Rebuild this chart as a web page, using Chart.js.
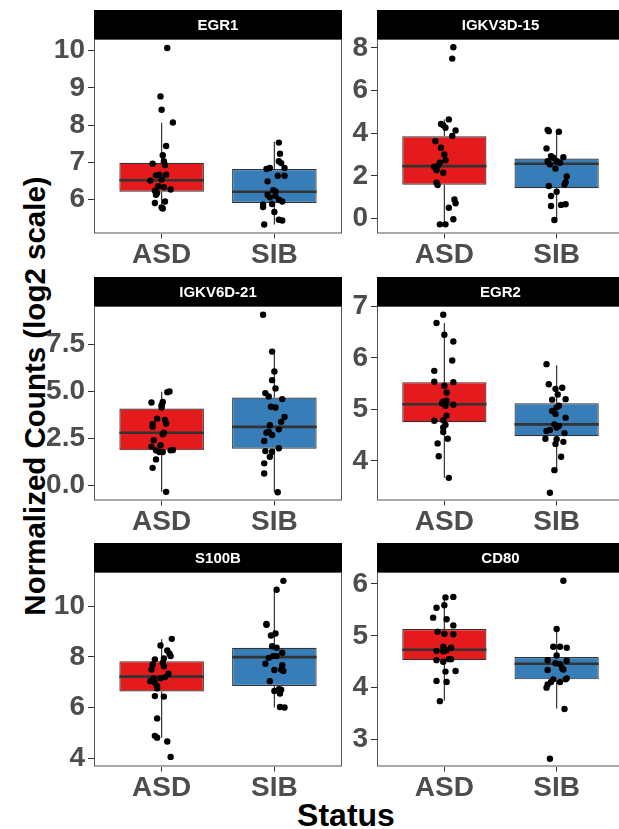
<!DOCTYPE html>
<html>
<head>
<meta charset="utf-8">
<script src="https://cdn.jsdelivr.net/npm/chart.js@4.4.1/dist/chart.umd.min.js"></script>
<style>
  html, body { margin: 0; padding: 0; background: #fff; }
  #figure { position: relative; width: 619px; height: 829px; overflow: hidden; background: #fff;
            font-family: "Liberation Sans", Arial, sans-serif; }
  #figure canvas { position: absolute; }
  #ylab { position: absolute; left: -215px; top: 378px; width: 500px; height: 36px; line-height: 36px;
          text-align: center; transform: rotate(-90deg); font-weight: bold; font-size: 29.5px; color: #000; }
  #xlab { position: absolute; left: 196px; top: 796px; width: 300px; height: 38px; line-height: 38px;
          text-align: center; font-weight: bold; font-size: 32px; color: #000; }
</style>
</head>
<body>
<div id="figure">
  <div id="ylab">Normalized Counts (log2 scale)</div>
  <div id="xlab">Status</div>
</div>
<script>
/*************************  Data  *************************/
var categories = ['ASD', 'SIB'];
var genes = ['EGR1', 'IGKV3D-15', 'IGKV6D-21', 'EGR2', 'S100B', 'CD80'];
var yMin = [5.09, -0.7, -0.8, 3.23, 3.67, 2.48];
var yMax = [10.31, 8.42, 9.56, 7.01, 11.35, 6.23];
var yTicks = [[6, 7, 8, 9, 10], [0, 2, 4, 6, 8], [0, 2.5, 5, 7.5], [4, 5, 6, 7], [4, 6, 8, 10], [3, 4, 5, 6]];
var tickDecimals = [0, 0, 1, 0, 0, 0];

// box stats per gene: [lower whisker, q1, median, q3, upper whisker]
var boxASD = [
    [5.76, 6.21, 6.52, 6.99, 8.06],
    [-0.27, 1.59, 2.46, 3.86, 4.65],
    [-0.34, 1.87, 2.81, 4.10, 4.99],
    [3.67, 4.75, 5.10, 5.53, 6.68],
    [4.81, 6.63, 7.22, 7.83, 8.69],
    [3.75, 4.53, 4.73, 5.13, 5.75]
];
var boxSIB = [
    [5.33, 5.91, 6.21, 6.82, 7.55],
    [-0.08, 1.42, 2.57, 2.82, 4.10],
    [-0.36, 1.96, 3.12, 4.68, 7.13],
    [3.82, 4.48, 4.71, 5.12, 5.86],
    [6.00, 6.85, 7.99, 8.36, 10.61],
    [3.60, 4.16, 4.46, 4.59, 5.13]
];

// samples: [jitter offset in category units, value]
var egr1ASD = [[0.05,10.07],[-0.01,8.77],[0,8.41],[0.1,8.07],[0.04,7.44],[0.01,7.19],[0.02,7.03],[-0.08,6.96],[0.03,6.93],[-0.02,6.67],[0.04,6.67],[-0.05,6.65],[-0.1,6.51],[0,6.54],[-0.03,6.36],[0.02,6.33],[-0.06,6.24],[0.08,6.27],[-0.04,6.18],[-0.05,6.13],[0.03,5.95],[-0.06,5.91],[0,5.79],[0.01,5.76]];
var egr1SIB = [[0.04,7.53],[0.05,7.23],[0.04,7.03],[0.06,6.98],[-0.07,6.82],[-0.04,6.85],[0.09,6.85],[-0.06,6.49],[0.03,6.64],[0.09,6.64],[-0.01,6.25],[0.01,6.22],[-0.06,6.13],[-0.04,6.06],[0.04,6.0],[0.07,5.95],[-0.02,5.88],[-0.1,5.87],[-0.1,5.8],[0,5.67],[0.04,5.46],[0.07,5.44],[-0.09,5.33],[0.01,6.1]];
var igkv3ASD = [[0.08,8.03],[0.07,7.5],[0.04,4.65],[-0.03,4.44],[-0.01,4.38],[0.01,4.26],[0.1,4.13],[0.07,3.87],[-0.08,3.63],[-0.03,3.32],[0,3.01],[0.01,2.74],[-0.04,2.62],[-0.06,2.46],[-0.09,2.43],[-0.07,2.27],[-0.01,2.15],[-0.07,1.68],[-0.06,1.57],[0.09,0.9],[0.1,0.72],[0.04,0.51],[0.08,-0.03],[-0.04,-0.27],[0.01,-0.27]];
var igkv3SIB = [[-0.08,4.16],[-0.07,4.1],[0.02,4.07],[-0.09,3.29],[-0.05,2.93],[-0.03,2.85],[0.06,2.88],[-0.08,2.69],[0,2.69],[0.03,2.62],[-0.06,2.54],[-0.01,2.35],[0.09,1.97],[0.08,1.71],[0.07,1.6],[-0.07,1.53],[0,1.26],[-0.05,1.06],[-0.05,0.59],[0.04,0.64],[0.08,0.67],[-0.02,-0.07]];
var igkv6ASD = [[0.07,5.01],[0.05,4.97],[-0.09,4.42],[0.01,4.45],[0,4.28],[0,4.15],[-0.04,3.56],[0.03,3.49],[0.04,3.3],[-0.08,3.26],[-0.08,3.13],[0.02,2.81],[0.01,2.73],[-0.07,2.41],[-0.09,2.07],[-0.01,2.14],[-0.05,1.87],[-0.02,1.78],[0.01,1.78],[0.08,1.87],[0.1,1.89],[-0.05,1.39],[-0.08,0.94],[0.04,-0.34]];
var igkv6SIB = [[-0.1,9.09],[-0.02,7.13],[0,6.07],[-0.02,5.61],[0.01,5.17],[-0.08,4.92],[-0.05,4.74],[0.07,4.6],[-0.03,4.19],[0.01,4.15],[0.09,3.65],[0.06,3.39],[-0.04,3.21],[0.04,2.99],[-0.07,2.81],[-0.02,2.69],[-0.05,2.86],[-0.09,2.37],[0.04,1.98],[-0.08,1.83],[-0.02,1.8],[-0.04,1.53],[-0.09,1.18],[-0.09,0.64],[0.03,-0.36]];
var egr2ASD = [[-0.01,6.84],[-0.07,6.68],[0,6.45],[0.08,6.32],[0.07,5.95],[-0.09,5.75],[-0.09,5.54],[0.08,5.53],[0,5.46],[0.02,5.33],[-0.01,5.15],[0.02,5.17],[0.01,5.07],[0.08,5.09],[-0.02,5.12],[-0.09,4.78],[-0.01,4.79],[0.02,4.88],[0.01,4.7],[-0.01,4.65],[-0.01,4.56],[0.03,4.43],[-0.06,4.34],[-0.05,4.09],[0.04,3.67]];
var egr2SIB = [[-0.09,5.88],[-0.07,5.49],[-0.01,5.4],[0.05,5.42],[0.01,5.29],[-0.04,5.19],[0.08,5.2],[0.02,5.07],[0,5.04],[-0.04,4.97],[-0.01,4.91],[0.08,4.84],[-0.02,4.71],[0.02,4.68],[0,4.65],[-0.06,4.6],[-0.09,4.58],[0.07,4.54],[-0.1,4.43],[0,4.42],[0.06,4.37],[-0.01,4.33],[0.04,4.08],[-0.02,3.82],[-0.06,3.38]];
var s100bASD = [[0.09,8.71],[-0.01,8.45],[0.05,8.25],[0.07,8.12],[0.08,8.03],[-0.06,7.9],[0.02,7.94],[-0.08,7.7],[0.01,7.77],[0.02,7.63],[-0.09,7.5],[0.06,7.33],[0.03,7.2],[-0.01,7.15],[-0.07,7.15],[-0.1,7.04],[-0.06,6.98],[-0.04,6.85],[-0.04,6.76],[-0.06,6.45],[0.02,6.43],[-0.04,5.57],[-0.06,4.88],[-0.04,4.81],[0.05,4.66],[0.08,4.05]];
var s100bSIB = [[0.08,11.0],[0.02,10.65],[-0.07,9.3],[-0.07,9.27],[0.01,8.92],[-0.03,8.84],[-0.02,8.42],[0.02,8.36],[0.07,8.16],[-0.01,8.03],[0.02,8.03],[-0.05,7.96],[-0.08,7.73],[0.07,7.67],[0.08,7.44],[0,7.48],[0.06,7.5],[-0.04,7.04],[0,6.65],[0.04,6.72],[0.05,6.55],[0.06,6.7],[0.05,6.02],[0.09,6.0]];
var cd80ASD = [[0.01,5.74],[0.08,5.75],[-0.07,5.54],[0,5.59],[-0.1,5.35],[0.02,5.32],[0.08,5.2],[-0.06,5.08],[0,5.04],[0.08,5.03],[-0.01,4.79],[0.06,4.77],[-0.07,4.71],[-0.01,4.7],[0.02,4.72],[0.06,4.55],[-0.07,4.53],[-0.01,4.5],[0.04,4.55],[0.01,4.31],[0.1,4.32],[-0.07,4.13],[0.02,4.11],[-0.04,3.74]];
var cd80SIB = [[0.06,6.06],[0,5.13],[-0.03,4.79],[0.03,4.79],[0.09,4.77],[0,4.62],[-0.08,4.53],[0.09,4.52],[-0.01,4.47],[0.03,4.45],[0.05,4.37],[-0.08,4.34],[0.06,4.35],[0.09,4.18],[0.08,4.16],[-0.03,4.16],[0.03,4.11],[-0.05,4.11],[-0.08,4.06],[-0.09,4.0],[0.07,3.59],[-0.06,2.63]];

var samplesASD = [egr1ASD, igkv3ASD, igkv6ASD, egr2ASD, s100bASD, cd80ASD];
var samplesSIB = [egr1SIB, igkv3SIB, igkv6SIB, egr2SIB, s100bSIB, cd80SIB];

var fillColors = ['#E41A1C', '#377EB8'];
var boxWidth = 0.75;

/*************************  Facet strip + border  *************************/
var STRIP_H = 29;
var facetFrame = {
    id: 'facetFrame',
    afterDraw: function(chart, args, opts) {
        var a = chart.chartArea, ctx = chart.ctx;
        ctx.save();
        ctx.strokeStyle = '#555';
        ctx.lineWidth = 1;
        ctx.strokeRect(a.left + 0.5, a.top + 0.5, a.right - a.left - 1, a.bottom - a.top - 1);
        ctx.fillStyle = '#000';
        ctx.fillRect(a.left, a.top - STRIP_H, a.right - a.left, STRIP_H);
        ctx.fillStyle = '#fff';
        ctx.font = 'bold 15px "Liberation Sans", Arial, sans-serif';
        ctx.textAlign = 'center';
        ctx.textBaseline = 'middle';
        ctx.fillText(opts.title, (a.left + a.right) / 2, a.top - STRIP_H / 2 + 1);
        ctx.restore();
    }
};

function boxData(b) {
    return [{x: 1, y: [b[0][1], b[0][3]]}, {x: 2, y: [b[1][1], b[1][3]]}];
}
function whiskerData(b) {
    var out = [];
    for (var k = 0; k < 2; k++) {
        var s = b[k], x = k + 1;
        out.push({x: x, y: s[4]}, {x: x, y: s[3]}, {x: x, y: null}, {x: x, y: s[1]}, {x: x, y: s[0]}, {x: x, y: null});
    }
    return out;
}
function medianData(b) {
    var out = [];
    for (var k = 0; k < 2; k++) {
        var x = k + 1;
        out.push({x: x - boxWidth / 2, y: b[k][2]}, {x: x + boxWidth / 2, y: b[k][2]}, {x: x, y: null});
    }
    return out;
}
function pointData(asd, sib) {
    return asd.map(function(p) { return {x: 1 + p[0], y: p[1]}; })
        .concat(sib.map(function(p) { return {x: 2 + p[0], y: p[1]}; }));
}

/*************************  Build facets  *************************/
var figure = document.getElementById('figure');
var rowTops = [10, 276.5, 543];
var tickFont = {family: '"Liberation Sans", Arial, sans-serif', size: 28, weight: 'bold'};

genes.forEach(function(gene, i) {
    var col = i % 2, row = Math.floor(i / 2);
    var yAxisW = col ? 40 : 94;
    var canvas = document.createElement('canvas');
    canvas.width = col ? 291 : 346;
    canvas.height = 258;
    canvas.style.left = (col ? 337 : 0) + 'px';
    canvas.style.top = rowTops[row] + 'px';
    figure.appendChild(canvas);

    var stats = [boxASD[i], boxSIB[i]];
    new Chart(canvas, {
        type: 'bar',
        data: {
            datasets: [
                {
                    type: 'scatter', data: pointData(samplesASD[i], samplesSIB[i]),
                    pointRadius: 3.2, pointBackgroundColor: '#000', pointBorderWidth: 0, order: 1
                },
                {
                    type: 'scatter', showLine: true, data: medianData(stats),
                    borderColor: '#333', borderWidth: 2.6, pointRadius: 0, order: 2
                },
                {
                    type: 'bar', data: boxData(stats), backgroundColor: fillColors,
                    borderColor: '#333', borderWidth: 1.2, borderSkipped: false,
                    barPercentage: boxWidth, categoryPercentage: 1, order: 3
                },
                {
                    type: 'scatter', showLine: true, data: whiskerData(stats),
                    borderColor: '#333', borderWidth: 1.2, pointRadius: 0, order: 4
                }
            ]
        },
        options: {
            responsive: false,
            animation: false,
            layout: {padding: {top: STRIP_H, right: 1, left: 0, bottom: 0}},
            plugins: {
                legend: {display: false},
                tooltip: {enabled: false},
                facetFrame: {title: gene}
            },
            scales: {
                x: {
                    type: 'linear', min: 0.4, max: 2.6, offset: false,
                    grid: {drawOnChartArea: false, tickLength: 5, tickColor: '#333', offset: false},
                    border: {display: false},
                    ticks: {
                        font: tickFont, color: '#4D4D4D', padding: 0, autoSkip: false, maxRotation: 0,
                        callback: function(v) { return categories[v - 1]; }
                    },
                    afterBuildTicks: function(s) { s.ticks = [{value: 1}, {value: 2}]; },
                    afterFit: function(s) { s.height = 34.5; }
                },
                y: {
                    min: yMin[i], max: yMax[i], beginAtZero: false,
                    grid: {drawOnChartArea: false, tickLength: 6, tickColor: '#333'},
                    border: {display: false},
                    ticks: {
                        font: tickFont, color: '#4D4D4D', padding: 3,
                        callback: function(v) { return v.toFixed(tickDecimals[i]); }
                    },
                    afterBuildTicks: function(s) { s.ticks = yTicks[i].map(function(v) { return {value: v}; }); },
                    afterFit: function(s) { s.width = yAxisW; }
                }
            }
        },
        plugins: [facetFrame]
    });
});
</script>
</body>
</html>
